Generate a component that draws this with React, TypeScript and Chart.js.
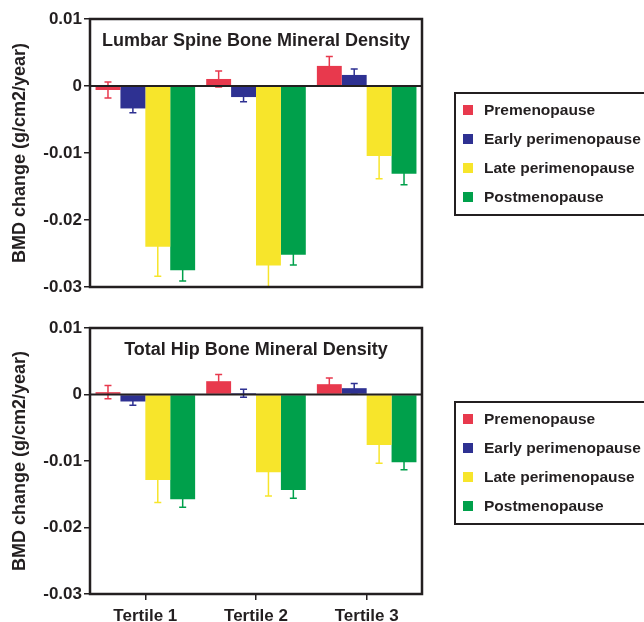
import React, { useEffect, useRef } from "react";
import { Chart, registerables } from "chart.js";

Chart.register(...registerables);

const categories = ["Tertile 1", "Tertile 2", "Tertile 3"];
const seriesNames = ["Premenopause", "Early perimenopause", "Late perimenopause", "Postmenopause"];
const seriesColors = ["#e8394d", "#2e3192", "#f7e52b", "#00a04b"];
const yTickValues = [0.01, 0, -0.01, -0.02, -0.03];

const lumbarTitle = "Lumbar Spine Bone Mineral Density";
const lumbarPre = [-0.0006, 0.00105, 0.003];
const lumbarEarly = [-0.00335, -0.00165, 0.00165];
const lumbarLate = [-0.024, -0.0268, -0.01045];
const lumbarPost = [-0.0275, -0.0252, -0.0131];
const lumbarPreErr = [0.0012, 0.0012, 0.0014];
const lumbarEarlyErr = [0.00065, 0.0007, 0.0009];
const lumbarLateErr = [0.0044, 0.004, 0.0034];
const lumbarPostErr = [0.0016, 0.0015, 0.00165];

const hipTitle = "Total Hip Bone Mineral Density";
const hipPre = [0.00035, 0.002, 0.00155];
const hipEarly = [-0.00105, 0.0002, 0.00095];
const hipLate = [-0.01285, -0.0117, -0.0076];
const hipPost = [-0.01575, -0.01435, -0.0102];
const hipPreErr = [0.001, 0.001, 0.00095];
const hipEarlyErr = [0.00055, 0.0006, 0.0007];
const hipLateErr = [0.0034, 0.00355, 0.00275];
const hipPostErr = [0.0012, 0.00125, 0.0011];

const FONT = "'Liberation Sans', Arial, Helvetica, sans-serif";
const INK = "#231f20";

function fmtTick(v: number) {
  const r = Math.round(v * 100) / 100;
  if (r === 0) return "0";
  return String(r);
}

function makeChart(
  canvas: HTMLCanvasElement,
  title: string,
  values: number[][],
  errors: number[][],
  showX: boolean,
  topPad: number,
  canvasH: number
) {
  const errorPlugin = {
    id: "errBars",
    beforeDatasetsDraw(chart: any) {
      const ctx = chart.ctx;
      const ca = chart.chartArea;
      const ys = chart.scales.y;
      ctx.save();
      ctx.beginPath();
      ctx.rect(ca.left, ca.top, ca.right - ca.left, ca.bottom - ca.top);
      ctx.clip();
      chart.data.datasets.forEach((ds: any, i: number) => {
        const meta = chart.getDatasetMeta(i);
        meta.data.forEach((el: any, j: number) => {
          const v = ds.data[j];
          const e = errors[i][j];
          const x = el.x;
          const y1 = ys.getPixelForValue(v + e);
          const y2 = ys.getPixelForValue(v - e);
          ctx.strokeStyle = seriesColors[i];
          ctx.lineWidth = 1.5;
          ctx.beginPath();
          ctx.moveTo(x, y1);
          ctx.lineTo(x, y2);
          ctx.moveTo(x - 3.5, y1);
          ctx.lineTo(x + 3.5, y1);
          ctx.moveTo(x - 3.5, y2);
          ctx.lineTo(x + 3.5, y2);
          ctx.stroke();
        });
      });
      ctx.restore();
    },
  };

  const framePlugin = {
    id: "frame",
    afterDatasetsDraw(chart: any) {
      const ctx = chart.ctx;
      const ca = chart.chartArea;
      const ys = chart.scales.y;
      ctx.save();
      ctx.strokeStyle = INK;
      ctx.lineWidth = 2;
      const y0 = ys.getPixelForValue(0);
      ctx.beginPath();
      ctx.moveTo(ca.left, y0);
      ctx.lineTo(ca.right, y0);
      ctx.stroke();
      ctx.lineWidth = 2.5;
      ctx.strokeRect(ca.left, ca.top, ca.right - ca.left, ca.bottom - ca.top);
      ctx.fillStyle = INK;
      ctx.font = `bold 18px ${FONT}`;
      ctx.textAlign = "center";
      ctx.textBaseline = "middle";
      ctx.fillText(title, (ca.left + ca.right) / 2, ca.top + 22);
      ctx.restore();
    },
  };

  const legendPlugin = {
    id: "sideLegend",
    afterDraw(chart: any) {
      const ctx = chart.ctx;
      const ca = chart.chartArea;
      const bx = ca.right + 33;
      const by = ca.top + 74;
      ctx.save();
      ctx.strokeStyle = INK;
      ctx.lineWidth = 2;
      ctx.strokeRect(bx, by, 260, 122);
      ctx.font = `bold 15.5px ${FONT}`;
      ctx.textAlign = "left";
      ctx.textBaseline = "middle";
      chart.data.datasets.forEach((ds: any, i: number) => {
        const cy = by + 17 + i * 29;
        ctx.fillStyle = ds.backgroundColor;
        ctx.fillRect(bx + 8, cy - 5, 10, 10);
        ctx.fillStyle = INK;
        ctx.fillText(ds.label, bx + 29, cy + 1);
      });
      ctx.restore();
    },
  };

  return new Chart(canvas, {
    type: "bar",
    data: {
      labels: categories,
      datasets: values.map((arr, i) => ({
        label: seriesNames[i],
        data: arr,
        backgroundColor: seriesColors[i],
        borderWidth: 0,
        categoryPercentage: 0.9,
        barPercentage: 1.0,
      })),
    },
    options: {
      responsive: false,
      maintainAspectRatio: false,
      animation: false,
      events: [],
      layout: {
        padding: { top: topPad, right: 222, left: 0, bottom: showX ? 0 : canvasH - 287 },
      },
      plugins: {
        legend: { display: false },
        title: { display: false },
        tooltip: { enabled: false },
      },
      scales: {
        x: {
          display: showX,
          offset: true,
          grid: {
            display: true,
            offset: false,
            drawOnChartArea: false,
            drawTicks: true,
            tickLength: 6,
            color: INK,
            lineWidth: 1.5,
          },
          border: { display: false },
          ticks: {
            color: INK,
            font: { family: FONT, weight: "bold", size: 17 },
            padding: 6,
          },
          afterFit: (s: any) => {
            s.height = showX ? 28 : 0;
          },
        },
        y: {
          min: -0.03,
          max: 0.01,
          afterBuildTicks: (s: any) => {
            s.ticks = yTickValues.map((v) => ({ value: v }));
          },
          grid: {
            display: true,
            drawOnChartArea: false,
            drawTicks: true,
            tickLength: 6,
            color: INK,
            lineWidth: 1.5,
          },
          border: { display: false },
          ticks: {
            color: INK,
            font: { family: FONT, weight: "bold", size: 17 },
            padding: 2,
            callback: (v: any) => fmtTick(Number(v)),
          },
          title: {
            display: true,
            text: "BMD change (g/cm2/year)",
            color: INK,
            font: { family: FONT, weight: "bold", size: 18 },
            padding: { top: 9, bottom: 0 },
          },
          afterFit: (s: any) => {
            s.width = 90;
          },
        },
      },
    },
    plugins: [errorPlugin, framePlugin, legendPlugin],
  } as any);
}

export default function App() {
  const topRef = useRef<HTMLCanvasElement>(null);
  const botRef = useRef<HTMLCanvasElement>(null);

  useEffect(() => {
    const c1 = makeChart(
      topRef.current!,
      lumbarTitle,
      [lumbarPre, lumbarEarly, lumbarLate, lumbarPost],
      [lumbarPreErr, lumbarEarlyErr, lumbarLateErr, lumbarPostErr],
      false,
      19,
      310
    );
    const c2 = makeChart(
      botRef.current!,
      hipTitle,
      [hipPre, hipEarly, hipLate, hipPost],
      [hipPreErr, hipEarlyErr, hipLateErr, hipPostErr],
      true,
      18,
      312
    );
    return () => {
      c1.destroy();
      c2.destroy();
    };
  }, []);

  return (
    <div
      style={{
        position: "fixed",
        left: 0,
        top: 0,
        width: 644,
        height: 622,
        overflow: "hidden",
        background: "#fff",
      }}
    >
      <canvas
        ref={topRef}
        width={644}
        height={310}
        style={{ position: "absolute", left: 0, top: 0, width: 644, height: 310, display: "block" }}
      />
      <canvas
        ref={botRef}
        width={644}
        height={312}
        style={{ position: "absolute", left: 0, top: 310, width: 644, height: 312, display: "block" }}
      />
    </div>
  );
}
